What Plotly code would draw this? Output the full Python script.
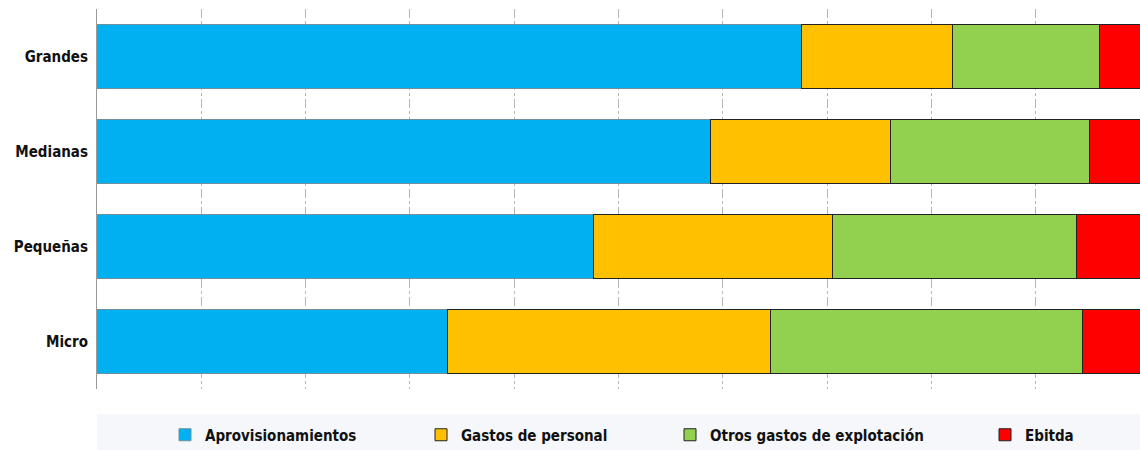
import plotly.graph_objects as go

# Estructura de costes por tamaño de empresa (% sobre ingresos)
categorias = ["Grandes", "Medianas", "Pequeñas", "Micro"]
aprovisionamientos = [67.5, 58.8, 47.6, 33.6]
gastos_personal = [14.5, 17.3, 22.9, 31.0]
otros_gastos = [14.1, 19.1, 23.4, 29.9]
ebitda = [3.9, 4.8, 6.1, 5.5]

series = [
    ("Aprovisionamientos", aprovisionamientos, "#00B0F0", "#6f8f9c"),
    ("Gastos de personal", gastos_personal, "#FFC000", "#222222"),
    ("Otros gastos de explotación", otros_gastos, "#92D050", "#222222"),
    ("Ebitda", ebitda, "#FF0000", "#222222"),
]

FONT = "DejaVu Sans Condensed, Roboto, sans-serif"

FIG_W, FIG_H = 1140, 450
plot_left, plot_width = 97, 1043
plot_top, plot_bottom = 9, 389
plot_h = plot_bottom - plot_top
# legend text start positions in pixels (one legend per series)
legend_px = [202, 458, 707, 1022]


def paper_y(page_y):
    return (plot_bottom - page_y) / plot_h


fig = go.Figure()
for i, (name, vals, color, edge) in enumerate(series):
    fig.add_trace(go.Bar(
        y=categorias,
        x=vals,
        name=name,
        orientation='h',
        marker=dict(color=color, line=dict(color=edge, width=1)),
        legend='legend' if i == 0 else f'legend{i + 1}',
        hoverinfo='skip'
    ))

legend_common = dict(
    orientation='h',
    yanchor='middle',
    y=paper_y(435),
    xanchor='left',
    bgcolor='rgba(0,0,0,0)',
    font=dict(family=FONT, size=15, color='#111111', weight='bold'),
)
legends = {}
for i, px_x in enumerate(legend_px):
    key = 'legend' if i == 0 else f'legend{i + 1}'
    legends[key] = dict(legend_common, x=(px_x - 37 - plot_left) / plot_width)

fig.update_layout(
    barmode='stack',
    bargap=0.33,
    width=FIG_W,
    height=FIG_H,
    margin=dict(l=plot_left, r=FIG_W - plot_left - plot_width, t=plot_top,
                b=FIG_H - plot_bottom, autoexpand=False),
    plot_bgcolor='white',
    paper_bgcolor='white',
    font=dict(family=FONT, size=15, color='#111111'),
    showlegend=True,
    xaxis=dict(
        range=[0, 100],
        dtick=10,
        showticklabels=False,
        showgrid=True,
        gridcolor='#b5b5b5',
        griddash='dashdot',
        gridwidth=1,
        zeroline=False,
        fixedrange=True,
    ),
    yaxis=dict(
        categoryorder='array',
        categoryarray=categorias,
        autorange='reversed',
        showline=True,
        linecolor='#999999',
        linewidth=1,
        ticks='',
        ticklabelstandoff=5,
        tickfont=dict(family=FONT, size=15, color='#111111', weight='bold'),
        fixedrange=True,
    ),
    # light band behind the legend
    shapes=[dict(
        type='rect', xref='paper', yref='paper',
        x0=0, x1=1, y0=paper_y(450), y1=paper_y(414),
        fillcolor='#F5F7FA', line=dict(width=0), layer='below'
    )],
    **legends
)

# drop the default 8px page margin so the figure sits at the window origin
fig.write_html(
    "out.html",
    config={'displayModeBar': False},
    post_script="document.body.style.margin='0';"
                "document.documentElement.style.overflow='hidden';"
)
